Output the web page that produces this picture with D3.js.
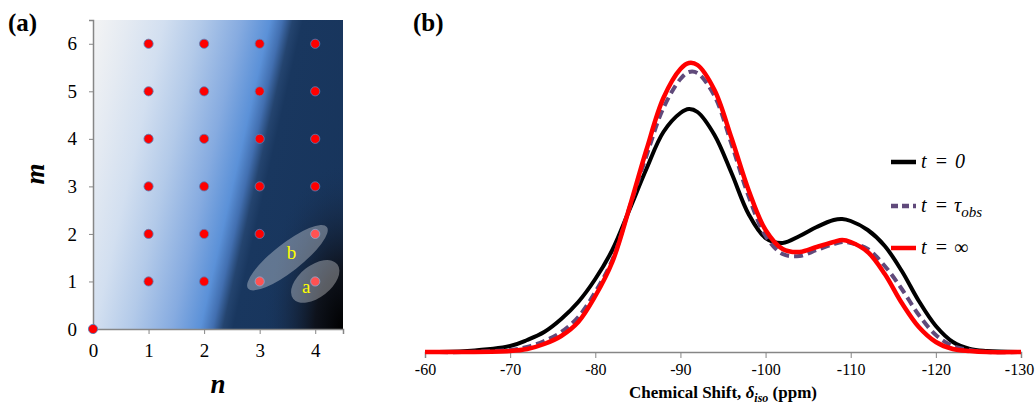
<!DOCTYPE html>
<html>
<head>
<meta charset="utf-8">
<script src="https://cdn.jsdelivr.net/npm/d3@7/dist/d3.min.js"></script>
<style>
  body { margin: 0; background: #fff; }
  svg { display: block; font-family: "Liberation Serif", "Times New Roman", serif; }
</style>
</head>
<body>
<svg id="chart" width="1035" height="405"></svg>
<script>
// ---- panel (a): (n, m) lattice ----
const nValues = [1, 2, 3, 4];
const mValues = [1, 2, 3, 4, 5, 6];
const originPoint = [0, 0];
const nTicks = [0, 1, 2, 3, 4];
const mTicks = [0, 1, 2, 3, 4, 5, 6];
const groupA = [[4, 1]];
const groupB = [[3, 1], [4, 2]];

// ---- panel (b): spectra ----
const shiftPpm = [-60, -65, -70, -72, -74, -76, -78, -80, -82, -84, -86, -88, -90, -91, -92, -94, -96, -98,
  -100, -102, -104, -106, -108, -109, -110, -112, -114, -116, -118, -120, -122, -124, -126, -130];
const intT0 = [0, 1, 6, 12, 20, 33, 50, 73, 102, 142, 183, 220, 239, 243, 240, 217, 179, 138,
  114, 109, 116, 125, 132, 133, 131, 122, 106, 81, 51, 26, 10, 3, 1, 0];
const intTobs = [0, 0, 2, 5, 11, 20, 35, 60, 92, 144, 196, 244, 273, 280, 279, 256, 208, 156,
  116, 98, 96, 102, 108, 110, 109, 103, 86, 63, 37, 17, 6, 2, 0, 0];
const intTinf = [0, 0, 1, 3, 8, 16, 30, 56, 90, 144, 202, 254, 283, 289, 287, 262, 214, 162,
  122, 103, 100, 105, 110, 112, 110, 100, 78, 49, 25, 10, 3, 1, 0, 0];
const shiftTicks = [-60, -70, -80, -90, -100, -110, -120, -130];

const svg = d3.select("#chart");
const defs = svg.append("defs");
const axisGrey = "#868686";
const serif = "'Liberation Serif', 'Times New Roman', serif";

// ================= panel (a) =================
const xA = d3.scaleLinear().domain([0, 4.5]).range([93, 343]);
const yA = d3.scaleLinear().domain([0, 6.5]).range([329, 20]);
const gA = svg.append("g");

// tilted blue gradient background
const dir = [0.975, 0.221];
const corners = [[xA.range()[0], yA.range()[1]], [xA.range()[1], yA.range()[1]],
  [xA.range()[0], yA.range()[0]], [xA.range()[1], yA.range()[0]]];
const proj = corners.map(c => c[0] * dir[0] + c[1] * dir[1]);
const p0 = d3.min(proj), p1 = d3.max(proj);
const bg = defs.append("linearGradient").attr("id", "bgGrad")
  .attr("gradientUnits", "userSpaceOnUse")
  .attr("x1", p0 * dir[0]).attr("y1", p0 * dir[1])
  .attr("x2", p1 * dir[0]).attr("y2", p1 * dir[1]);
[[p0, "#f4f4f4"], [130, "#e4eaf2"], [165, "#d2dff0"], [200, "#b3cae9"], [240, "#86abe0"],
 [268, "#5b91d8"], [280, "#426fb0"], [290, "#24446f"], [300, "#19375f"], [p1, "#17345b"]]
  .forEach(([p, c]) => bg.append("stop").attr("offset", (p - p0) / (p1 - p0)).attr("stop-color", c));

const dark = defs.append("radialGradient").attr("id", "darkGrad");
dark.append("stop").attr("offset", 0).attr("stop-color", "#000").attr("stop-opacity", 1);
dark.append("stop").attr("offset", 0.35).attr("stop-color", "#0c0c10").attr("stop-opacity", 0.85);
dark.append("stop").attr("offset", 0.75).attr("stop-color", "#152238").attr("stop-opacity", 0.3);
dark.append("stop").attr("offset", 1).attr("stop-color", "#17345b").attr("stop-opacity", 0);

defs.append("clipPath").attr("id", "clipA").append("rect")
  .attr("x", xA.range()[0]).attr("y", yA.range()[1])
  .attr("width", xA.range()[1] - xA.range()[0]).attr("height", yA.range()[0] - yA.range()[1]);

gA.append("rect")
  .attr("x", xA.range()[0]).attr("y", yA.range()[1])
  .attr("width", xA.range()[1] - xA.range()[0]).attr("height", yA.range()[0] - yA.range()[1])
  .attr("fill", "url(#bgGrad)");
gA.append("ellipse").attr("clip-path", "url(#clipA)")
  .attr("cx", xA.range()[1]).attr("cy", yA.range()[0])
  .attr("rx", 80).attr("ry", 165)
  .attr("fill", "url(#darkGrad)");

// axes
const axA = gA.append("g").attr("transform", `translate(0,${yA(0)})`)
  .call(d3.axisBottom(xA).tickValues(nTicks).tickSize(5).tickPadding(10).tickFormat(d => String(d)));
const ayA = gA.append("g").attr("transform", `translate(${xA(0)},0)`)
  .call(d3.axisLeft(yA).tickValues(mTicks).tickSize(4).tickPadding(12).tickFormat(d => String(d)));
[axA, ayA].forEach(a => {
  a.attr("font-family", serif);
  a.select(".domain").attr("stroke", axisGrey).attr("stroke-width", 1.5);
  a.selectAll(".tick line").attr("stroke", axisGrey);
  a.selectAll("text").attr("font-size", 19).attr("fill", "#000");
});

// points
const pts = [originPoint];
mValues.forEach(m => nValues.forEach(n => pts.push([n, m])));
gA.append("g").selectAll("circle").data(pts).join("circle")
  .attr("cx", d => xA(d[0])).attr("cy", d => yA(d[1]))
  .attr("r", 4.6)
  .attr("fill", "#ff0000").attr("stroke", "#4f81bd").attr("stroke-width", 0.8);

// highlighted groups
function groupEllipse(members, rx, ry, label, lx, ly) {
  const cx = d3.mean(members, d => xA(d[0]));
  const cy = d3.mean(members, d => yA(d[1]));
  gA.append("ellipse")
    .attr("transform", `translate(${cx},${cy}) rotate(-38)`)
    .attr("rx", rx).attr("ry", ry)
    .attr("fill", "#ffffff").attr("fill-opacity", 0.32);
  gA.append("text").attr("x", cx + lx).attr("y", cy + ly)
    .attr("text-anchor", "middle").attr("dominant-baseline", "central")
    .attr("font-size", 19).attr("fill", "#ffff00").text(label);
}
groupEllipse(groupB, 50, 14, "b", 4, -5);
groupEllipse(groupA, 28, 16, "a", -9, 5);

// titles
gA.append("text").attr("x", 8).attr("y", 31).attr("font-size", 25).attr("font-weight", "bold").text("(a)");
gA.append("text").attr("transform", "translate(44,174) rotate(-90)")
  .attr("text-anchor", "middle").attr("font-size", 27).attr("font-weight", "bold").attr("font-style", "italic").text("m");
gA.append("text").attr("x", xA(2.25)).attr("y", 393)
  .attr("text-anchor", "middle").attr("font-size", 27).attr("font-weight", "bold").attr("font-style", "italic").text("n");

// ================= panel (b) =================
const xB = d3.scaleLinear().domain([-60, -130]).range([425, 1021]);
const yB = d3.scaleLinear().domain([0, 312]).range([352, 40]);
const gB = svg.append("g");

const axB = gB.append("g").attr("transform", `translate(0,${yB(0)})`)
  .call(d3.axisBottom(xB).tickValues(shiftTicks).tickSize(6).tickPadding(6).tickFormat(d => String(d)));
axB.attr("font-family", serif);
axB.select(".domain").attr("stroke", axisGrey).attr("stroke-width", 1.5);
axB.selectAll(".tick line").attr("stroke", axisGrey);
axB.selectAll("text").attr("font-size", 16).attr("fill", "#000")
  .attr("dx", d => d === -130 ? -2 : 0);

const series = [
  { key: "t0", values: intT0, color: "#000000", width: 4, dash: null },
  { key: "tobs", values: intTobs, color: "#604a7b", width: 4, dash: "9,5" },
  { key: "tinf", values: intTinf, color: "#ff0000", width: 4.5, dash: null }
];
const line = d3.line().x(d => xB(d[0])).y(d => yB(d[1])).curve(d3.curveCatmullRom.alpha(0.5));
series.forEach(s => {
  gB.append("path")
    .datum(shiftPpm.map((p, i) => [p, s.values[i]]))
    .attr("d", line)
    .attr("fill", "none").attr("stroke", s.color).attr("stroke-width", s.width)
    .attr("stroke-dasharray", s.dash).attr("stroke-linejoin", "round");
});

// legend
const legendY = [162, 206, 248];
series.forEach((s, i) => {
  gB.append("line").attr("x1", 891).attr("x2", 916).attr("y1", legendY[i]).attr("y2", legendY[i])
    .attr("stroke", s.color).attr("stroke-width", 4.5).attr("stroke-dasharray", s.dash ? "7,4" : null);
  const t = gB.append("text").attr("x", 921).attr("y", legendY[i] + 6)
    .attr("font-size", 20).attr("font-style", "italic");
  t.append("tspan").text("t");
  t.append("tspan").attr("dx", 8).text("=");
  if (i === 0) t.append("tspan").attr("dx", 7).text("0");
  if (i === 1) {
    t.append("tspan").attr("dx", 6).text("τ");
    t.append("tspan").attr("dy", 5).attr("font-size", 15).text("obs");
  }
  if (i === 2) t.append("tspan").attr("dx", 6).attr("font-style", "normal").text("∞");
});

gB.append("text").attr("x", 413).attr("y", 31).attr("font-size", 25).attr("font-weight", "bold").text("(b)");
const title = gB.append("text").attr("x", (xB(-60) + xB(-130)) / 2).attr("y", 398)
  .attr("text-anchor", "middle").attr("font-size", 17).attr("font-weight", "bold");
title.append("tspan").text("Chemical Shift, ");
title.append("tspan").attr("font-style", "italic").text("δ");
title.append("tspan").attr("font-style", "italic").attr("font-size", 12).attr("dy", 4).text("iso");
title.append("tspan").attr("dy", -4).text(" (ppm)");
</script>
</body>
</html>
